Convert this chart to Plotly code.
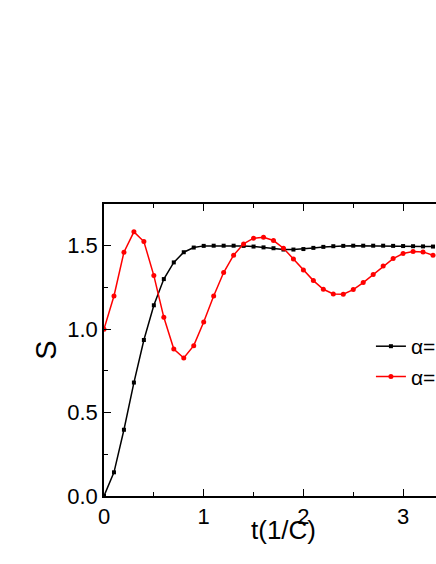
import plotly.graph_objects as go

# time axis, step 0.1 (1/C)
t = [round(i * 0.1, 1) for i in range(34)]

# S for the first alpha (black squares)
s_black = [0.0, 0.142, 0.397, 0.68, 0.935, 1.143, 1.30, 1.40, 1.461, 1.489,
           1.499, 1.50, 1.50, 1.50, 1.499, 1.495, 1.49, 1.485, 1.477, 1.477,
           1.48, 1.487, 1.493, 1.497, 1.499, 1.50, 1.50, 1.50, 1.50, 1.499,
           1.498, 1.497, 1.496, 1.495]

# S for the second alpha (red circles)
s_red = [1.0, 1.199, 1.461, 1.583, 1.525, 1.321, 1.071, 0.881, 0.827, 0.901,
         1.043, 1.199, 1.339, 1.443, 1.511, 1.545, 1.551, 1.531, 1.485, 1.421,
         1.355, 1.291, 1.239, 1.211, 1.209, 1.237, 1.279, 1.327, 1.379, 1.423,
         1.453, 1.465, 1.463, 1.443]

names = ["α=", "α="]

FONT = "Liberation Sans, Arial, sans-serif"

fig = go.Figure()
fig.add_trace(go.Scatter(x=t, y=s_black, mode="lines+markers", name=names[0],
                         line=dict(color="black", width=1.5),
                         marker=dict(symbol="square", size=4, color="black")))
fig.add_trace(go.Scatter(x=t, y=s_red, mode="lines+markers", name=names[1],
                         line=dict(color="#ff0000", width=1.5),
                         marker=dict(symbol="circle", size=5, color="#ff0000")))

axis_common = dict(showline=True, linecolor="black", linewidth=1.5,
                   ticks="inside", ticklen=7, tickwidth=1.2, tickcolor="black",
                   showgrid=False, zeroline=False,
                   tickfont=dict(family=FONT, size=22, color="black"))

fig.update_layout(
    width=436, height=564,
    margin=dict(l=104, r=0, t=204, b=68, autoexpand=False),
    paper_bgcolor="white", plot_bgcolor="white",
    xaxis=dict(range=[0, 3.33], dtick=1, tick0=0,
               minor=dict(dtick=0.5, ticklen=4, ticks="inside", tickcolor="black"),
               **axis_common),
    xaxis2=dict(overlaying="x", matches="x", side="top", showticklabels=False,
                showline=True, linecolor="black", linewidth=1.5,
                ticks="inside", ticklen=7, tickwidth=1.2, tickcolor="black",
                dtick=1, tick0=0, showgrid=False, zeroline=False,
                minor=dict(dtick=0.5, ticklen=4, ticks="inside", tickcolor="black")),
    yaxis=dict(range=[0, 1.75], dtick=0.5, tick0=0, tickformat=".1f",
               minor=dict(dtick=0.25, ticklen=4, ticks="inside", tickcolor="black"),
               title=dict(text="S", font=dict(family=FONT, size=29, color="black"),
                          standoff=2),
               **axis_common),
    showlegend=True,
    legend=dict(x=0.804, y=0.582, xanchor="left", yanchor="top",
                bgcolor="rgba(0,0,0,0)", tracegroupgap=0,
                font=dict(family=FONT, size=21, color="black")),
    annotations=[dict(text="t(1/C)", xref="x", yref="paper", x=1.8, y=-0.057,
                      xanchor="center", yanchor="top", showarrow=False,
                      font=dict(family=FONT, size=26, color="black"))],
)

# empty trace so the top mirror axis is drawn
fig.add_trace(go.Scatter(x=[], y=[], xaxis="x2", showlegend=False))

fig.write_html("out.html", config={"displayModeBar": False},
               post_script="document.body.style.margin='0';"
                           "document.body.style.overflow='hidden';")
